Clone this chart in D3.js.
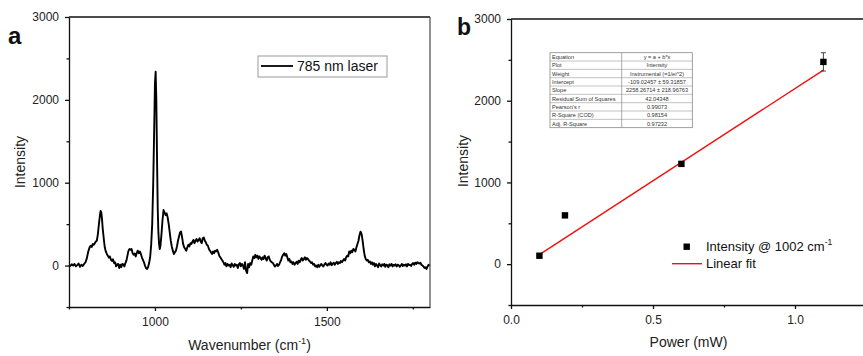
<!DOCTYPE html>
<html>
<head>
<meta charset="utf-8">
<script src="https://cdn.jsdelivr.net/npm/d3@7"></script>
<style>
  body { margin: 0; background: #fff; }
  svg { font-family: "Liberation Sans", Arial, sans-serif; }
</style>
</head>
<body>
<svg id="chart" width="863" height="356"></svg>
<script>
// Raman spectrum, [wavenumber cm-1, intensity]
const spectrum = [
  [750,10],[754,-5],[758,15],[762,0],[766,20],[770,-10],[774,5],[778,25],[782,-15],[786,10],
  [790,-5],[794,20],[798,40],[802,90],[806,170],[810,220],[813,240],[816,225],[819,260],[822,250],
  [825,270],[828,290],[831,300],[834,380],[837,500],[840,610],[842,660],[844,640],[846,560],[848,450],
  [851,330],[854,220],[857,170],[860,140],[863,120],[866,95],[869,110],[872,70],[875,55],[878,75],
  [881,30],[884,40],[887,-10],[890,15],[893,20],[896,-30],[899,10],[902,-20],[905,20],[908,15],
  [911,-10],[914,30],[917,60],[920,120],[923,180],[926,200],[929,190],[932,200],[935,150],[938,130],
  [941,145],[944,110],[947,150],[950,180],[953,150],[956,170],[959,140],[962,100],[965,70],[968,40],
  [971,0],[974,-30],[977,-40],[980,-20],[983,30],[986,100],[989,250],[992,500],[995,1000],[998,1700],
  [1000,2200],[1002,2340],[1004,2000],[1006,1300],[1008,700],[1010,400],[1012,260],[1014,200],[1016,240],[1019,380],
  [1022,550],[1025,670],[1028,640],[1031,610],[1034,630],[1037,580],[1040,500],[1043,400],[1046,300],[1049,230],
  [1052,180],[1055,140],[1058,160],[1061,180],[1064,230],[1067,300],[1070,350],[1073,400],[1076,410],[1079,340],
  [1082,260],[1085,220],[1088,200],[1091,180],[1094,220],[1097,250],[1100,230],[1103,270],[1106,260],[1109,290],
  [1112,310],[1115,270],[1118,300],[1121,320],[1124,290],[1127,310],[1130,330],[1133,290],[1136,270],[1139,330],
  [1142,340],[1145,300],[1148,280],[1151,250],[1154,240],[1157,200],[1160,180],[1163,160],[1166,140],[1169,170],
  [1172,150],[1175,180],[1178,170],[1181,190],[1184,160],[1187,120],[1190,100],[1193,80],[1196,60],[1199,40],
  [1202,10],[1205,30],[1208,-10],[1211,20],[1214,0],[1217,10],[1220,-20],[1223,25],[1226,5],[1229,-15],
  [1232,20],[1235,0],[1238,10],[1241,-30],[1244,15],[1247,30],[1250,-10],[1253,20],[1256,0],[1259,-40],
  [1262,40],[1265,-60],[1268,-90],[1271,20],[1274,-20],[1277,30],[1280,10],[1283,60],[1286,110],[1289,90],
  [1292,130],[1295,100],[1298,120],[1301,80],[1304,110],[1307,90],[1310,70],[1313,100],[1316,80],[1319,120],
  [1322,90],[1325,60],[1328,100],[1331,110],[1334,70],[1337,50],[1340,40],[1343,30],[1346,10],[1349,-10],
  [1352,0],[1355,20],[1358,-5],[1361,10],[1364,40],[1367,70],[1370,110],[1373,130],[1376,150],[1379,120],
  [1382,140],[1385,100],[1388,60],[1391,80],[1394,40],[1397,50],[1400,20],[1403,40],[1406,10],[1409,30],
  [1412,45],[1415,20],[1418,60],[1421,40],[1424,70],[1427,90],[1430,60],[1433,80],[1436,100],[1439,70],
  [1442,90],[1445,80],[1448,60],[1451,50],[1454,30],[1457,40],[1460,10],[1463,20],[1466,-10],[1469,0],
  [1472,-20],[1475,10],[1478,-15],[1481,5],[1484,20],[1487,0],[1490,-10],[1493,15],[1496,30],[1499,10],
  [1502,0],[1505,25],[1508,10],[1511,40],[1514,5],[1517,20],[1520,35],[1523,10],[1526,30],[1529,45],
  [1532,20],[1535,40],[1538,30],[1541,55],[1544,40],[1547,60],[1550,80],[1553,60],[1556,100],[1559,120],
  [1562,110],[1565,170],[1568,150],[1571,180],[1574,160],[1577,200],[1580,190],[1583,170],[1586,220],[1589,260],
  [1592,300],[1595,370],[1598,410],[1601,380],[1604,300],[1607,200],[1610,120],[1613,80],[1616,60],[1619,70],
  [1622,40],[1625,50],[1628,20],[1631,40],[1634,10],[1637,30],[1640,-10],[1643,20],[1646,0],[1649,-20],
  [1652,25],[1655,5],[1658,-10],[1661,15],[1664,0],[1667,20],[1670,-15],[1673,10],[1676,5],[1679,-20],
  [1682,15],[1685,0],[1688,20],[1691,-10],[1694,10],[1697,0],[1700,15],[1703,-10],[1706,10],[1709,5],
  [1712,-15],[1715,0],[1718,20],[1721,-5],[1724,10],[1727,0],[1730,15],[1733,-10],[1736,20],[1739,5],
  [1742,10],[1745,-5],[1748,20],[1751,30],[1754,10],[1757,35],[1760,20],[1763,40],[1766,30],[1769,25],
  [1772,35],[1775,10],[1778,0],[1781,-10],[1784,-30],[1787,-20],[1790,-40],[1793,-10],[1796,10],[1800,0]
];

// power dependence
const power = [0.1, 0.19, 0.6, 1.1];
const peakIntensity = [103, 597, 1227, 2475];
const peakError = [0, 0, 0, 112];
const fitIntercept = -109.02457;
const fitSlope = 2258.26714;

const fitTable = [
  ["Equation", "y = a + b*x"],
  ["Plot", "Intensity"],
  ["Weight", "Instrumental (=1/ei^2)"],
  ["Intercept", "-109.02457 \u00b1 59.31857"],
  ["Slope", "2258.26714 \u00b1 218.96763"],
  ["Residual Sum of Squares", "42.04348"],
  ["Pearson's r", "0.99073"],
  ["R-Square (COD)", "0.98154"],
  ["Adj. R-Square", "0.97232"]
];

const yTicks = [0, 1000, 2000, 3000];
const yMinor = [-500, 500, 1500, 2500];
const xTicksA = [1000, 1500];
const xMinorA = [750, 1250, 1750];
const xTicksB = [0, 0.5, 1.0];
const xMinorB = [0.25, 0.75, 1.25];

const svg = d3.select("#chart");

function drawAxes(g, x, y, w, h, xt, xm, xfmt, frameRight) {
  g.append("g").attr("transform", `translate(0,${h})`)
    .call(d3.axisBottom(x).tickValues(xt).tickFormat(xfmt).tickSizeInner(4).tickSizeOuter(0).tickPadding(6));
  g.append("g").attr("transform", `translate(0,${h})`)
    .call(d3.axisBottom(x).tickValues(xm).tickFormat("").tickSizeInner(2.5).tickSizeOuter(0))
    .select(".domain").remove();
  g.append("g")
    .call(d3.axisLeft(y).tickValues(yTicks).tickFormat(d3.format("d")).tickSizeInner(4).tickSizeOuter(0).tickPadding(6));
  g.append("g")
    .call(d3.axisLeft(y).tickValues(yMinor).tickFormat("").tickSizeInner(2.5).tickSizeOuter(0))
    .select(".domain").remove();
  g.selectAll(".tick text").attr("font-size", 12).attr("font-family", "Liberation Sans, Arial, sans-serif").attr("fill", "#222");
  g.selectAll(".domain, .tick line").attr("stroke", "#111").attr("stroke-width", 1.3);
  g.append("line").attr("x1", 0).attr("x2", w).attr("y1", 0).attr("y2", 0)
    .attr("stroke", "#111").attr("stroke-width", 1.3);
  if (frameRight) {
    g.append("line").attr("x1", w).attr("x2", w).attr("y1", 0).attr("y2", h)
      .attr("stroke", "#555").attr("stroke-width", 1.3);
  }
}

// ---------- panel a ----------
const aL = 69, aT = 17, aW = 361, aH = 290;
const ga = svg.append("g").attr("transform", `translate(${aL},${aT})`);
const xa = d3.scaleLinear().domain([750, 1800]).range([0, aW]);
const ya = d3.scaleLinear().domain([-500, 3000]).range([aH, 0]);

ga.append("path").datum(spectrum)
  .attr("fill", "none").attr("stroke", "#000").attr("stroke-width", 1.9)
  .attr("stroke-linejoin", "round")
  .attr("d", d3.line().x(d => xa(d[0])).y(d => ya(d[1])));

drawAxes(ga, xa, ya, aW, aH, xTicksA, xMinorA, d3.format("d"), true);

// legend a
ga.append("rect").attr("x", 258 - aL).attr("y", 56 - aT).attr("width", 129).attr("height", 21)
  .attr("fill", "#fff").attr("stroke", "#999").attr("stroke-width", 1);
ga.append("line").attr("x1", 261 - aL).attr("x2", 293 - aL).attr("y1", 66 - aT).attr("y2", 66 - aT)
  .attr("stroke", "#000").attr("stroke-width", 1.8);
ga.append("text").attr("x", 297 - aL).attr("y", 71 - aT).attr("font-size", 14).attr("fill", "#111")
  .text("785 nm laser");

const ta = ga.append("text").attr("x", aW / 2).attr("y", 350 - aT).attr("text-anchor", "middle")
  .attr("font-size", 14).attr("fill", "#222");
ta.append("tspan").text("Wavenumber (cm");
ta.append("tspan").attr("font-size", 9).attr("dy", -6).text("-1");
ta.append("tspan").attr("dy", 6).text(")");

ga.append("text").attr("transform", `translate(${25 - aL},${162 - aT}) rotate(-90)`)
  .attr("text-anchor", "middle").attr("font-size", 14).attr("fill", "#222").text("Intensity");

svg.append("text").attr("x", 8).attr("y", 44).attr("font-size", 24).attr("font-weight", "bold")
  .attr("fill", "#111").text("a");

// ---------- panel b ----------
const bL = 511, bT = 19, bW = 355, bH = 286;
const gb = svg.append("g").attr("transform", `translate(${bL},${bT})`);
const xb = d3.scaleLinear().domain([0, 1.25]).range([0, bW]);
const yb = d3.scaleLinear().domain([-500, 3000]).range([bH, 0]);

drawAxes(gb, xb, yb, bW, bH, xTicksB, xMinorB, d3.format(".1f"), false);

// fit line
gb.append("line")
  .attr("x1", xb(power[0])).attr("y1", yb(fitIntercept + fitSlope * power[0]))
  .attr("x2", xb(power[power.length - 1])).attr("y2", yb(fitIntercept + fitSlope * power[power.length - 1]))
  .attr("stroke", "#f01010").attr("stroke-width", 1.4);

// error bars
power.forEach((p, i) => {
  if (!peakError[i]) return;
  const cx = xb(p);
  const y1 = yb(peakIntensity[i] - peakError[i]), y2 = yb(peakIntensity[i] + peakError[i]);
  gb.append("line").attr("x1", cx).attr("x2", cx).attr("y1", y1).attr("y2", y2).attr("stroke", "#444").attr("stroke-width", 1);
  [y1, y2].forEach(yy => gb.append("line").attr("x1", cx - 2.5).attr("x2", cx + 2.5).attr("y1", yy).attr("y2", yy)
    .attr("stroke", "#444").attr("stroke-width", 1));
});

gb.selectAll("rect.pt").data(power).enter().append("rect").attr("class", "pt")
  .attr("x", d => xb(d) - 3.2).attr("y", (d, i) => yb(peakIntensity[i]) - 3.2)
  .attr("width", 6.4).attr("height", 6.4).attr("fill", "#000");

// legend b
gb.append("rect").attr("x", 686.7 - bL - 3.2).attr("y", 246.7 - bT - 3.2).attr("width", 6.4).attr("height", 6.4).attr("fill", "#000");
const lb = gb.append("text").attr("x", 706 - bL).attr("y", 251 - bT).attr("font-size", 13).attr("fill", "#111");
lb.append("tspan").text("Intensity @ 1002 cm");
lb.append("tspan").attr("font-size", 8.5).attr("dy", -6).text("-1");
gb.append("line").attr("x1", 672 - bL).attr("x2", 702 - bL).attr("y1", 263.7 - bT).attr("y2", 263.7 - bT)
  .attr("stroke", "#f01010").attr("stroke-width", 1.4);
gb.append("text").attr("x", 706 - bL).attr("y", 268 - bT).attr("font-size", 13).attr("fill", "#111").text("Linear fit");

// fit results table
const tX = 550 - bL, tY = 52.7 - bT, tW = 142.3, rowH = 8.33, colX = 621.7 - bL;
const tbl = gb.append("g");
tbl.append("rect").attr("x", tX).attr("y", tY).attr("width", tW).attr("height", rowH * fitTable.length)
  .attr("fill", "#fff").attr("stroke", "#888").attr("stroke-width", 0.8);
fitTable.forEach((r, i) => {
  if (i > 0) tbl.append("line").attr("x1", tX).attr("x2", tX + tW).attr("y1", tY + i * rowH).attr("y2", tY + i * rowH)
    .attr("stroke", "#999").attr("stroke-width", 0.6);
  tbl.append("text").attr("x", tX + 2).attr("y", tY + i * rowH + 6.3).attr("font-size", 5.6).attr("fill", "#333").text(r[0]);
  tbl.append("text").attr("x", (colX + tX + tW) / 2).attr("y", tY + i * rowH + 6.3).attr("text-anchor", "middle")
    .attr("font-size", 5.6).attr("fill", "#333").text(r[1]);
});
tbl.append("line").attr("x1", colX).attr("x2", colX).attr("y1", tY).attr("y2", tY + rowH * fitTable.length)
  .attr("stroke", "#888").attr("stroke-width", 0.7);

gb.append("text").attr("x", (648 + 729) / 2 - bL).attr("y", 347 - bT).attr("text-anchor", "middle")
  .attr("font-size", 14).attr("fill", "#222").text("Power (mW)");

gb.append("text").attr("transform", `translate(${468 - bL},${161 - bT}) rotate(-90)`)
  .attr("text-anchor", "middle").attr("font-size", 14).attr("fill", "#222").text("Intensity");

svg.append("text").attr("x", 457).attr("y", 35).attr("font-size", 23).attr("font-weight", "bold")
  .attr("fill", "#111").text("b");
</script>
</body>
</html>
